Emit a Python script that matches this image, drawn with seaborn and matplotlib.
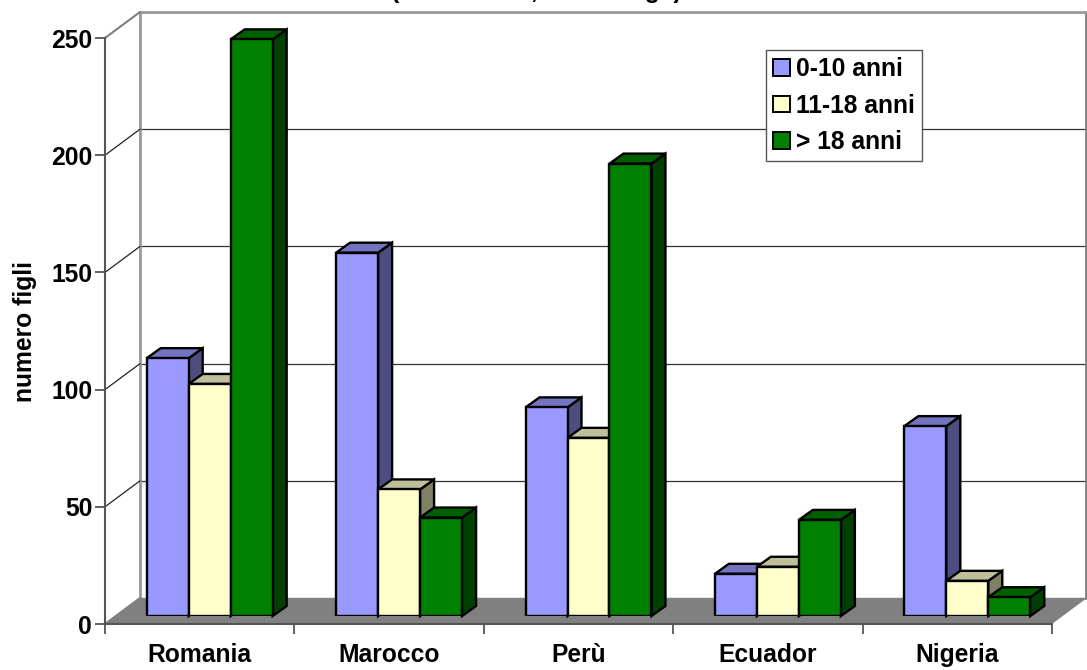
import matplotlib
matplotlib.use("Agg")
import matplotlib.pyplot as plt
import pandas as pd
import seaborn as sns
from matplotlib.lines import Line2D
from matplotlib.patches import Polygon
from matplotlib.transforms import Affine2D

paesi = ["Romania", "Marocco", "Perù", "Ecuador", "Nigeria"]
fasce = ["0-10 anni", "11-18 anni", "> 18 anni"]
figli_0_10 = [110, 155, 89, 18, 81]
figli_11_18 = [99, 54, 76, 21, 15]
figli_oltre_18 = [246, 42, 193, 41, 8]
scala_valori = [0, 50, 100, 150, 200, 250]

colori = ["#9999FF", "#FFFFCC", "#008000"]
colori_top = ["#7373BF", "#BFBF99", "#006000"]
colori_lato = ["#4D4D80", "#808066", "#004000"]
GRIGIO = "#808080"
GRIGIO_MURO = "#999999"
GRIGIO_ASSE = "#555555"
CORPO = 17.7

W, H = 1087, 670
sns.set_theme(style="white")
plt.rcParams["font.family"] = ["Liberation Sans", "DejaVu Sans"]
plt.rcParams["font.weight"] = "bold"
plt.rcParams["text.color"] = "black"

fig = plt.figure(figsize=(W / 100, H / 100), dpi=100)
px = Affine2D().scale(1 / W, -1 / H).translate(0, 1) + fig.transFigure


def area(x0, x1, y_basso, y_alto):
    return [x0 / W, 1 - y_basso / H, (x1 - x0) / W, (y_basso - y_alto) / H]


# back wall with its gridlines
retro = fig.add_axes(area(140, 1086, 598, 12), zorder=0)
retro.set_xlim(0, 1)
retro.set_ylim(0, 250)
retro.set_xticks([])
retro.set_yticks(scala_valori)
retro.tick_params(left=False, labelleft=False)
retro.grid(axis="y", color="#333333", lw=0.9)
for lato, spine in retro.spines.items():
    spine.set_visible(lato != "bottom")
    spine.set_color(GRIGIO_MURO)
    spine.set_linewidth(2)
retro.spines["right"].set_color(GRIGIO)

# floor
fig.add_artist(Polygon([(105, 624), (1052, 624), (1087, 598), (140, 598)],
                       closed=True, transform=px, fc=GRIGIO, ec="none", zorder=1))

# side wall: one slanted rule for every level of the scale
passo = 586 / 250
for v in scala_valori:
    y_f = 624 - v * passo
    y_r = 598 - v * passo
    colore = GRIGIO if v in (0, 250) else "#222222"
    fig.add_artist(Line2D([105, 140], [y_f, y_r], transform=px, color=colore,
                          lw=1.5 if v in (0, 250) else 0.9, zorder=1))

# front plane carrying the value scale and the country labels
fronte = fig.add_axes(area(105, 1052, 624, 38), zorder=2)
fronte.patch.set_alpha(0)
fronte.set_xlim(-0.5, 4.5)
fronte.set_ylim(0, 250)
fronte.set_yticks(scala_valori)
fronte.set_xticks([i - 0.5 for i in range(6)], labels=[""] * 6)
fronte.set_xticks(range(5), labels=paesi, minor=True)
fronte.tick_params(axis="both", which="major", length=7.2, width=1.3, color=GRIGIO_ASSE,
                   left=True, bottom=True, labelsize=CORPO, pad=2)
fronte.tick_params(axis="x", which="minor", length=0, labelsize=CORPO, pad=14)
fronte.set_ylabel("numero figli", fontsize=CORPO, fontweight="bold", labelpad=10, color="black")
for lato, spine in fronte.spines.items():
    spine.set_visible(lato in ("left", "bottom"))
    spine.set_color(GRIGIO_ASSE)
    spine.set_linewidth(1.5)
for etichetta in fronte.get_xticklabels(which="both") + fronte.get_yticklabels():
    etichetta.set_fontweight("bold")
    etichetta.set_color("black")

# bars stand a little behind the front plane
dati = pd.DataFrame({
    "paese": paesi * 3,
    "fascia": [f for f in fasce for _ in paesi],
    "figli": figli_0_10 + figli_11_18 + figli_oltre_18,
})
barre = fig.add_axes(area(115, 1062, 616, 30), zorder=3)
barre.patch.set_alpha(0)
sns.barplot(data=dati, x="paese", y="figli", hue="fascia", hue_order=fasce, order=paesi,
            palette=colori, width=0.665, gap=0, saturation=1, edgecolor="black",
            linewidth=1.7, legend=True, ax=barre)
barre.set_xlim(-0.5, 4.5)
barre.set_ylim(0, 250)
barre.axis("off")

# depth of each bar, expressed in data units
dx = 14 / (947 / 5)
dy = 10 / passo
for s, contenitore in enumerate(barre.containers):
    for barra in contenitore:
        ordine = 3 + barra.get_x() * 1.0 + s * 0.05
        x0, x1 = barra.get_x(), barra.get_x() + barra.get_width()
        h = barra.get_height()
        barra.set_zorder(ordine + 0.02)
        barre.add_patch(Polygon([(x1, 0), (x1 + dx, dy), (x1 + dx, h + dy), (x1, h)],
                                fc=colori_lato[s], ec="black", lw=1.7, clip_on=False, zorder=ordine))
        barre.add_patch(Polygon([(x0, h), (x0 + dx, h + dy), (x1 + dx, h + dy), (x1, h)],
                                fc=colori_top[s], ec="black", lw=1.7, clip_on=False, zorder=ordine + 0.01))

# legend box, with its anchor given in figure pixels
gestori, testi = barre.get_legend_handles_labels()
barre.legend(gestori, testi, loc="upper left", bbox_to_anchor=(766 / W, 1 - 50 / H),
             bbox_transform=fig.transFigure, fontsize=CORPO, frameon=True, fancybox=False,
             edgecolor="#555555", framealpha=1, borderaxespad=0, borderpad=0.3, handlelength=0.68,
             handleheight=0.68, handletextpad=0.22, labelspacing=0.5)
barre.get_legend().set_zorder(20)
for gestore in barre.get_legend().get_patches():
    gestore.set_linewidth(1.4)

# title running off the top edge of the sheet
fig.text(536 / W, 1 + 2 / H, "(valori totali, età dei figli)", ha="center", va="baseline",
         fontsize=CORPO, fontweight="bold", color="black")

fig.savefig("out.png", dpi=100)
